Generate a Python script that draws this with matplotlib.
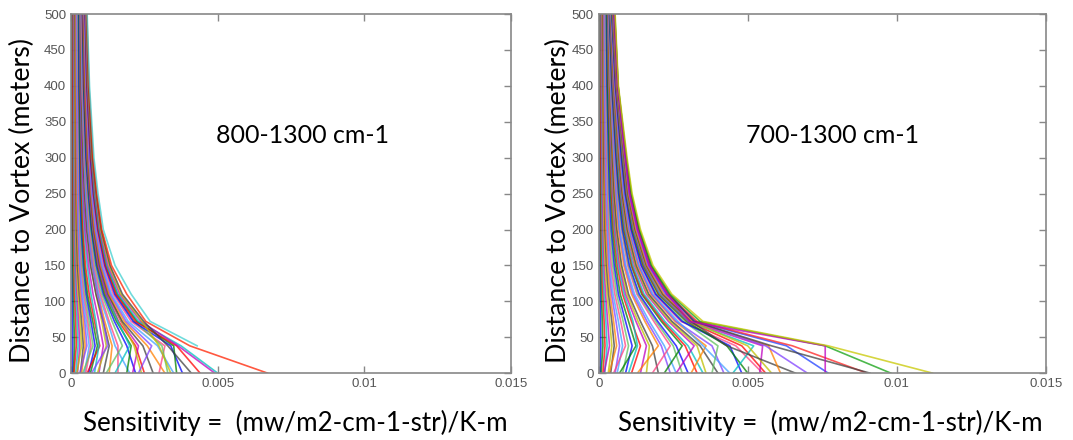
import matplotlib as mpl
import matplotlib.pyplot as plt
import numpy as np

mpl.rcParams['font.family'] = "Liberation Sans"

# heights (m) at which each profile is sampled
heights = [0, 38, 72, 110, 150, 200, 250, 300, 400, 500]

# sensitivity profiles, units of 1e-3 (mw/m2-cm-1-str)/K-m, one row per line
left_profiles = [
    [0.04, 0.06, 0.05, 0.04, 0.03, 0.03, 0.02, 0.02, 0.02, 0.02],
    [0.08, 0.12, 0.10, 0.08, 0.06, 0.05, 0.05, 0.05, 0.04, 0.04],
    [0.10, 0.18, 0.16, 0.12, 0.10, 0.08, 0.07, 0.07, 0.06, 0.06],
    [0.16, 0.24, 0.21, 0.16, 0.13, 0.11, 0.10, 0.09, 0.09, 0.08],
    [0.22, 0.30, 0.26, 0.20, 0.16, 0.14, 0.12, 0.12, 0.11, 0.10],
    [0.20, 0.36, 0.31, 0.24, 0.19, 0.16, 0.15, 0.14, 0.13, 0.12],
    [0.32, 0.42, 0.36, 0.28, 0.22, 0.19, 0.17, 0.16, 0.15, 0.14],
    [0.36, 0.48, 0.42, 0.32, 0.26, 0.22, 0.19, 0.18, 0.17, 0.16],
    [0.30, 0.54, 0.47, 0.36, 0.29, 0.24, 0.22, 0.21, 0.19, 0.18],
    [0.46, 0.62, 0.52, 0.40, 0.32, 0.27, 0.24, 0.23, 0.21, 0.20],
    [0.50, 0.68, 0.57, 0.44, 0.35, 0.30, 0.26, 0.25, 0.23, 0.22],
    [0.40, 0.75, 0.62, 0.48, 0.38, 0.32, 0.29, 0.28, 0.25, 0.24],
    [0.60, 0.82, 0.68, 0.52, 0.42, 0.35, 0.31, 0.30, 0.27, 0.26],
    [0.66, 0.90, 0.74, 0.56, 0.45, 0.38, 0.34, 0.32, 0.29, 0.28],
    [0.55, 0.98, 0.80, 0.62, 0.49, 0.41, 0.36, 0.34, 0.31, 0.30],
    [0.80, 0.95, 0.85, 0.68, 0.55, 0.45, 0.39, 0.36, 0.32, 0.30],
    [0.95, 1.10, 0.95, 0.75, 0.60, 0.48, 0.42, 0.38, 0.33, 0.31],
    [0.90, 1.20, 1.05, 0.85, 0.68, 0.55, 0.47, 0.42, 0.35, 0.32],
    [1.10, 1.30, 1.10, 0.85, 0.66, 0.53, 0.46, 0.41, 0.35, 0.33],
    [1.30, 1.40, 1.15, 0.92, 0.73, 0.59, 0.50, 0.44, 0.37, 0.34],
    [0.70, 1.25, 1.10, 0.90, 0.72, 0.58, 0.50, 0.45, 0.38, 0.35],
    [2.00, 1.50, 1.25, 0.95, 0.75, 0.60, 0.51, 0.45, 0.38, 0.35],
    [1.60, 1.60, 1.30, 1.00, 0.78, 0.63, 0.54, 0.47, 0.40, 0.36],
    [1.20, 1.75, 1.40, 1.05, 0.82, 0.66, 0.56, 0.49, 0.42, 0.38],
    [2.20, 1.90, 1.48, 1.10, 0.86, 0.69, 0.59, 0.51, 0.43, 0.39],
    [1.90, 2.05, 1.55, 1.14, 0.89, 0.71, 0.61, 0.53, 0.44, 0.40],
    [2.50, 2.20, 1.62, 1.18, 0.92, 0.74, 0.63, 0.55, 0.46, 0.41],
    [1.50, 2.00, 1.60, 1.20, 0.94, 0.75, 0.64, 0.56, 0.47, 0.42],
    [2.10, 2.30, 1.70, 1.22, 0.95, 0.76, 0.64, 0.56, 0.46, 0.42],
    [2.40, 2.15, 1.72, 1.28, 1.00, 0.79, 0.67, 0.58, 0.48, 0.43],
    [2.80, 2.45, 1.75, 1.26, 0.98, 0.78, 0.66, 0.58, 0.48, 0.43],
    [3.20, 2.60, 1.82, 1.30, 1.01, 0.80, 0.68, 0.59, 0.49, 0.44],
    [2.30, 2.75, 1.88, 1.34, 1.04, 0.83, 0.70, 0.61, 0.51, 0.45],
    [3.50, 2.95, 1.95, 1.38, 1.07, 0.85, 0.72, 0.63, 0.52, 0.46],
    [3.00, 3.20, 2.05, 1.44, 1.11, 0.88, 0.74, 0.64, 0.53, 0.47],
    [3.30, 3.10, 2.15, 1.52, 1.17, 0.92, 0.77, 0.67, 0.55, 0.49],
    [3.80, 3.40, 2.12, 1.49, 1.15, 0.91, 0.76, 0.66, 0.54, 0.48],
    [3.60, 3.50, 2.25, 1.58, 1.20, 0.94, 0.79, 0.69, 0.56, 0.50],
    [4.40, 3.60, 2.20, 1.54, 1.18, 0.93, 0.78, 0.68, 0.55, 0.49],
    [5.00, 3.75, 2.30, 1.60, 1.22, 0.96, 0.80, 0.70, 0.57, 0.50],
    [4.90, 3.65, 2.38, 1.66, 1.26, 0.99, 0.83, 0.71, 0.58, 0.51],
    [3.40, 3.00, 2.42, 1.70, 1.30, 1.01, 0.85, 0.72, 0.59, 0.52],
    [4.10, 3.30, 2.48, 1.75, 1.33, 1.03, 0.86, 0.73, 0.60, 0.53],
]
# the lines that stand out at the far right of the left panel
left_highlights = [
    [6.70, 4.05, 2.55, 1.90, 1.38, 1.05, 0.88, 0.75, 0.61, 0.54],
    [np.nan, 4.30, 2.70, 2.05, 1.50, 1.10, 0.92, 0.78, 0.63, 0.55],
]

right_profiles = [
    [0.05, 0.07, 0.06, 0.05, 0.04, 0.03, 0.03, 0.02, 0.02, 0.02],
    [0.08, 0.14, 0.12, 0.09, 0.07, 0.06, 0.05, 0.05, 0.04, 0.04],
    [0.14, 0.21, 0.18, 0.14, 0.11, 0.09, 0.08, 0.07, 0.06, 0.06],
    [0.20, 0.28, 0.24, 0.18, 0.14, 0.12, 0.10, 0.10, 0.09, 0.08],
    [0.18, 0.36, 0.30, 0.23, 0.18, 0.15, 0.13, 0.12, 0.11, 0.10],
    [0.32, 0.44, 0.37, 0.28, 0.22, 0.18, 0.16, 0.15, 0.13, 0.12],
    [0.40, 0.52, 0.44, 0.33, 0.26, 0.21, 0.19, 0.17, 0.15, 0.14],
    [0.35, 0.60, 0.50, 0.38, 0.30, 0.24, 0.21, 0.20, 0.17, 0.16],
    [0.55, 0.70, 0.58, 0.43, 0.34, 0.28, 0.24, 0.22, 0.19, 0.18],
    [0.62, 0.80, 0.66, 0.48, 0.38, 0.31, 0.27, 0.25, 0.21, 0.20],
    [0.50, 0.90, 0.74, 0.54, 0.42, 0.34, 0.30, 0.27, 0.24, 0.22],
    [0.80, 1.00, 0.82, 0.60, 0.47, 0.38, 0.33, 0.30, 0.26, 0.24],
    [0.90, 1.12, 0.90, 0.66, 0.52, 0.42, 0.36, 0.33, 0.28, 0.26],
    [0.70, 1.25, 1.00, 0.72, 0.57, 0.46, 0.40, 0.36, 0.30, 0.28],
    [1.10, 1.40, 1.10, 0.80, 0.62, 0.50, 0.43, 0.39, 0.33, 0.30],
    [1.00, 1.30, 1.15, 0.85, 0.66, 0.53, 0.46, 0.41, 0.34, 0.30],
    [1.40, 1.60, 1.25, 0.90, 0.70, 0.56, 0.48, 0.43, 0.35, 0.31],
    [1.60, 1.70, 1.32, 0.95, 0.74, 0.59, 0.50, 0.45, 0.36, 0.32],
    [2.00, 1.80, 1.40, 1.00, 0.77, 0.61, 0.52, 0.46, 0.37, 0.32],
    [1.30, 2.00, 1.55, 1.10, 0.84, 0.66, 0.56, 0.49, 0.38, 0.33],
    [2.40, 2.10, 1.62, 1.15, 0.88, 0.69, 0.58, 0.51, 0.40, 0.34],
    [2.60, 2.20, 1.70, 1.20, 0.91, 0.71, 0.60, 0.52, 0.40, 0.34],
    [1.80, 2.40, 1.85, 1.28, 0.97, 0.76, 0.63, 0.55, 0.42, 0.35],
    [2.80, 2.50, 1.92, 1.32, 1.00, 0.78, 0.65, 0.57, 0.43, 0.36],
    [3.00, 2.60, 1.98, 1.36, 1.03, 0.80, 0.67, 0.58, 0.44, 0.36],
    [2.20, 2.80, 2.10, 1.44, 1.09, 0.84, 0.70, 0.61, 0.46, 0.37],
    [3.30, 2.90, 2.16, 1.48, 1.12, 0.86, 0.72, 0.62, 0.47, 0.38],
    [3.50, 3.00, 2.22, 1.52, 1.15, 0.88, 0.73, 0.63, 0.48, 0.38],
    [2.60, 3.20, 2.34, 1.60, 1.20, 0.92, 0.76, 0.66, 0.49, 0.39],
    [3.60, 3.30, 2.40, 1.64, 1.23, 0.94, 0.78, 0.67, 0.50, 0.40],
    [4.00, 3.40, 2.46, 1.68, 1.26, 0.96, 0.79, 0.68, 0.51, 0.40],
    [3.10, 3.60, 2.56, 1.75, 1.31, 1.00, 0.82, 0.70, 0.52, 0.41],
    [4.20, 3.80, 2.60, 1.78, 1.34, 1.02, 0.84, 0.72, 0.53, 0.42],
    [4.40, 3.50, 2.66, 1.82, 1.36, 1.04, 0.85, 0.73, 0.54, 0.42],
    [5.50, 4.60, 2.76, 1.88, 1.41, 1.07, 0.88, 0.75, 0.55, 0.43],
    [3.80, 4.00, 2.85, 1.94, 1.45, 1.10, 0.90, 0.77, 0.57, 0.44],
    [4.80, 4.40, 2.80, 1.91, 1.43, 1.09, 0.89, 0.76, 0.56, 0.44],
    [5.00, 4.30, 2.94, 2.00, 1.49, 1.13, 0.92, 0.79, 0.58, 0.45],
    [5.60, 4.80, 2.98, 2.02, 1.51, 1.15, 0.93, 0.80, 0.58, 0.46],
    [4.50, 5.20, 3.00, 2.05, 1.53, 1.16, 0.94, 0.81, 0.59, 0.46],
    [5.40, 5.50, 3.05, 2.10, 1.56, 1.19, 0.96, 0.83, 0.60, 0.47],
    [5.80, 5.00, 3.10, 2.12, 1.58, 1.20, 0.97, 0.84, 0.61, 0.48],
    [6.60, 4.30, 3.10, 2.15, 1.60, 1.22, 0.98, 0.85, 0.61, 0.48],
    [6.10, 5.70, 3.15, 2.20, 1.63, 1.25, 1.00, 0.87, 0.62, 0.49],
    [7.00, 5.60, 3.20, 2.24, 1.66, 1.28, 1.02, 0.88, 0.63, 0.50],
]
# the lines that stand out at the far right of the right panel
right_highlights = [
    [7.70, 6.30, 3.25, 2.28, 1.69, 1.31, 1.04, 0.90, 0.64, 0.51],
    [9.00, 6.50, 3.30, 2.32, 1.72, 1.33, 1.06, 0.91, 0.64, 0.52],
    [9.10, 5.80, 3.20, 2.36, 1.75, 1.35, 1.08, 0.92, 0.65, 0.53],
    [9.80, 7.60, 3.40, 2.40, 1.78, 1.37, 1.10, 0.93, 0.65, 0.54],
    [7.60, 7.60, 3.05, 2.30, 1.70, 1.30, 1.04, 0.90, 0.64, 0.53],
    [11.2, 7.70, 3.50, 2.45, 1.82, 1.40, 1.12, 0.95, 0.66, 0.55],
]

panel_labels = ["800-1300 cm-1", "700-1300 cm-1"]
x_ticks = [0, 0.005, 0.01, 0.015]
x_tick_labels = ["0", "0.005", "0.01", "0.015"]
y_ticks = [0, 50, 100, 150, 200, 250, 300, 350, 400, 450, 500]

line_colors = ["#0000ff", "#008000", "#ff0000", "#00bfbf", "#bf00bf", "#bfbf00",
               "#404040", "#ff8000", "#8040ff", "#40a0ff", "#ff4080", "#60c060"]
left_highlight_colors = ["#ff2000", "#40d0d0"]
right_highlight_colors = ["#2040ff", "#ff2020", "#404040", "#10a010", "#c000c0", "#c8c800"]


def draw_panel(ax, profiles, highlights, hl_colors, label):
    for i, prof in enumerate(profiles):
        ax.plot(np.array(prof) * 1e-3, heights, color=line_colors[i % len(line_colors)],
                lw=1.2, alpha=0.75)
    for prof, c in zip(highlights, hl_colors):
        ax.plot(np.array(prof) * 1e-3, heights, color=c, lw=1.2, alpha=0.75)
    ax.set_xlim(0, 0.015)
    ax.set_ylim(0, 500)
    ax.set_xticks(x_ticks)
    ax.set_xticklabels(x_tick_labels)
    ax.set_yticks(y_ticks)
    ax.tick_params(direction='in', length=5, width=1, colors='#888888',
                   labelcolor='#555555', labelsize=9.5, top=True, right=True)
    for s in ax.spines.values():
        s.set_color('#888888')
        s.set_linewidth(1.2)
    ax.text(0.00495, 331, label, fontsize=18, family='Lato', va='center', ha='left')


fig = plt.figure(figsize=(10.73, 4.4), dpi=100)
ax1 = fig.add_axes([0.0662, 0.152, 0.410, 0.816])
ax2 = fig.add_axes([0.558, 0.152, 0.4166, 0.816])
draw_panel(ax1, left_profiles, left_highlights, left_highlight_colors, panel_labels[0])
draw_panel(ax2, right_profiles, right_highlights, right_highlight_colors, panel_labels[1])

for xc in [22, 558]:
    fig.text(xc / 1073, 1 - 200 / 440, "Distance to Vortex (meters)", rotation=90,
             fontsize=19.3, family='Lato', ha='center', va='center')
for xc in [295, 830]:
    fig.text(xc / 1073, 1 - 423 / 440, "Sensitivity =  (mw/m2-cm-1-str)/K-m",
             fontsize=18.7, family='Lato', ha='center', va='center')

plt.savefig('out.png', dpi=100)
